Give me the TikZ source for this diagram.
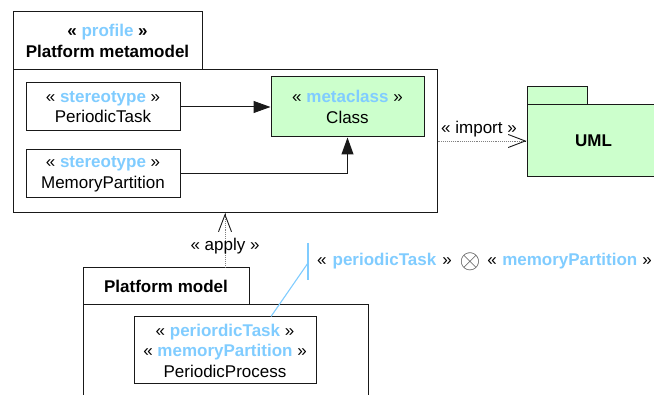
\documentclass[tikz,border=0pt]{standalone}
\usepackage{fontspec}
\usepackage{graphicx}
\setmainfont{Liberation Sans}
\usetikzlibrary{arrows.meta}
\definecolor{stblue}{RGB}{128,204,255}
\definecolor{mgreen}{RGB}{204,255,204}
\definecolor{linec}{RGB}{25,25,25}
\newcommand\stereo[1]{\textcolor{stblue}{\textbf{#1}}}
\begin{document}
\begin{tikzpicture}[x=1pt,y=-1pt,
  every node/.style={font=\fontsize{17}{20.5}\selectfont, inner sep=0pt, align=center, text=black},
  boxed/.style={draw=linec, line width=1pt},
  solidhead/.style={-{Triangle[length=17pt,width=12pt]}, draw=linec, line width=1pt},
  barbhead/.style={-{Straight Barb[length=17pt,width=13pt,line width=0.9pt]}},
  dep/.style={densely dotted, draw=gray, line width=0.9pt},
  noteline/.style={draw=stblue, line width=1.1pt}
]
\useasboundingbox (0,0) rectangle (654,395);

% Profile package
\node[boxed, minimum width=424pt, minimum height=143pt] (profbody) at (225,141.5) {};
\node[boxed, minimum width=189pt, minimum height=58pt] (proftab) at (107.5,41)
  {\textbf{« \stereo{profile} »}\\\textbf{Platform metamodel}};

\node[boxed, minimum width=154pt, minimum height=48pt] (pt) at (103,107)
  {« \stereo{stereotype} »\\PeriodicTask};
\node[boxed, minimum width=154pt, minimum height=48pt] (mp) at (103,174)
  {« \stereo{stereotype} »\\MemoryPartition};
\node[boxed, fill=mgreen, minimum width=153pt, minimum height=60pt] (cls) at (347.5,107)
  {« \stereo{metaclass} »\\Class};

\draw[solidhead] (pt.east) -- (cls.west);
\draw[solidhead] (mp.east) -| (cls.south);

% UML package
\node[boxed, fill=mgreen, minimum width=133pt, minimum height=72pt] (umlbody) at (593.5,141) {\textbf{UML}};
\node[boxed, fill=mgreen, minimum width=60pt, minimum height=18pt] (umltab) at (557,96) {};

\draw[dep] (profbody.east |- umlbody.west) -- (umlbody.west);
\draw[barbhead, draw=linec] ([xshift=-1pt]umlbody.west) -- (umlbody.west);
\node (importlbl) at (479,129) {« import »};

% Platform model package
\node[boxed, minimum width=285pt, minimum height=105pt] (platbody) at (225.5,357.5) {};
\node[boxed, minimum width=166pt, minimum height=37pt] (plattab) at (166,286.5) {\textbf{Platform model}};

\node[boxed, minimum width=182pt, minimum height=67pt] (pp) at (225,350.5)
  {« \stereo{periordicTask} »\\« \stereo{memoryPartition} »\\PeriodicProcess};

\draw[dep] (profbody.south |- plattab.north) -- (profbody.south);
\draw[barbhead, draw=linec] ([yshift=-1pt]profbody.south) -- (profbody.south);
\node (applylbl) at (225,246) {« apply »};

% Note
\coordinate (bt) at (308,243);
\coordinate (bb) at (308,280);
\coordinate (bj) at (308,263);
\draw[noteline] (bt) -- (bb);
\draw[noteline] ([xshift=46pt]pp.north) -- (bj);
\node[anchor=west] (notelbl1) at (317,261) {«\hspace{6pt}\stereo{periodicTask}\hspace{6pt}»};
\node (otimesn) at (470,261.5) {\textcolor{black!70}{\scalebox{1.55}{$\otimes$}}};
\node[anchor=east] (notelbl2) at (652,261) {«\hspace{5.5pt}\stereo{memoryPartition}\hspace{5pt}»};
\end{tikzpicture}
\end{document}
